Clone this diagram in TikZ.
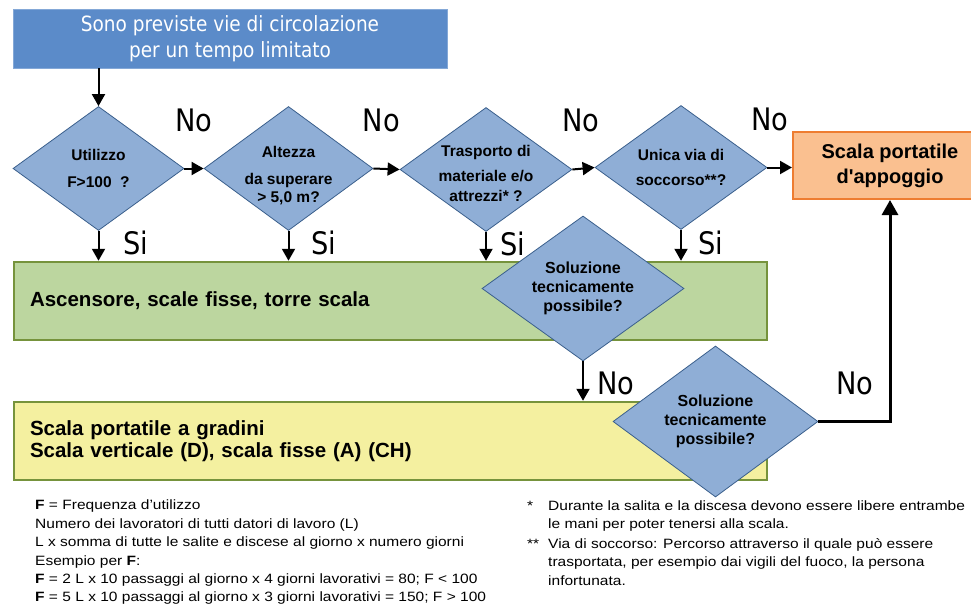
\documentclass[tikz,border=0pt]{standalone}
\usepackage{fontspec}
\setmainfont{Liberation Sans}
\newfontfamily\labelfont[FakeStretch=0.88]{DejaVu Sans}
\newfontfamily\notefont[FakeStretch=1.15]{Liberation Sans}
\usetikzlibrary{arrows.meta,shapes.geometric}

\definecolor{titleblue}{HTML}{5B8BC9}
\definecolor{diafill}{HTML}{8FAED6}
\definecolor{diadraw}{HTML}{3A5F8C}
\definecolor{orangefill}{HTML}{FAC090}
\definecolor{orangedraw}{HTML}{EE7D31}
\definecolor{greenfill}{HTML}{BCD69F}
\definecolor{greendraw}{HTML}{76933C}
\definecolor{yellowfill}{HTML}{F4F0A0}

% text of a decision, moved down by hand
\newcommand{\lowtext}[2]{\raisebox{#1}[0pt][0pt]{\begin{tabular}{@{}c@{}}#2\end{tabular}}}

\begin{document}
\begin{tikzpicture}[x=1pt,y=-1pt]

    \useasboundingbox (0,0) rectangle (971,610);

    \node (1) [rectangle, fill=titleblue, draw=titleblue!75!white, thick, minimum width=434pt, minimum height=59pt,
        text=white, align=center, font=\labelfont\fontsize{21}{26}\selectfont] at (230,38.5)
        {Sono previste vie di circolazione\\per un tempo limitato};

    \begin{scope}[every node/.style={rectangle, draw=greendraw, line width=2.5pt, inner xsep=16pt, text width=721pt,
        minimum height=78pt, align=left, font=\bfseries\fontsize{20.5}{22}\selectfont}]
        \node (7) [fill=greenfill] at (390.5,301) {Ascensore, scale fisse, torre scala};
        \node (9) [fill=yellowfill] at (390.5,441) {Scala portatile a gradini\\Scala verticale (D), scala fisse (A) (CH)};
    \end{scope}

    \node (6) [rectangle, fill=orangefill, draw=orangedraw, line width=2pt, minimum width=194pt, minimum height=67pt,
        align=center, font=\bfseries\fontsize{20}{25}\selectfont] at (890,165.5) {Scala portatile\\d\textquotesingle appoggio};

    \begin{scope}[every node/.style={diamond, aspect=1.4, fill=diafill, draw=diadraw, thick, inner sep=0pt,
        align=center, font=\bfseries\fontsize{15.5}{18}\selectfont}]
        \node (2) [minimum width=171pt, minimum height=124pt] at (98.5,168.5) {Utilizzo\\[9pt]F>100\ \ ?};
        \node (3) [minimum width=169pt, minimum height=124pt] at (288.5,168.5)
            {\lowtext{-11pt}{Altezza\\[9pt]da superare\\> 5,0 m?}};
        \node (4) [minimum width=172pt, minimum height=124pt] at (486,169.5)
            {\lowtext{-9pt}{Trasporto di\\[7pt]materiale e/o\\[2pt]attrezzi* ?}};
        \node (5) [minimum width=172pt, minimum height=124pt] at (681,167.5) {Unica via di\\[7pt]soccorso**?};
        \node (8) [minimum width=202pt, minimum height=145pt, font=\bfseries\fontsize{16}{19}\selectfont] at (583,288.5)
            {Soluzione\\tecnicamente\\possibile?};
        \node (10) [minimum width=205pt, minimum height=151pt, font=\bfseries\fontsize{16}{19}\selectfont] at (715.5,421.5)
            {Soluzione\\tecnicamente\\possibile?};
    \end{scope}

    \begin{scope}[every node/.style={inner sep=0pt, font=\labelfont\fontsize{31}{31}\selectfont},
        every edge/.style={draw, line width=2pt, -{Triangle[length=12pt,width=13pt]}}]
        \path (1.south -| 2.north) edge (2.north);
        \path (2.east) edge node[yshift=48.5pt] {No} (3.west);
        \path (3.east) edge node[xshift=-5pt, yshift=48.5pt] {No} (4.west);
        \path (4.east) edge node[xshift=-2.5pt, yshift=48.5pt] {No} (5.west);
        \path (5.east) edge node[xshift=-10pt, yshift=48.5pt] {No} (5.east -| 6.west);
        \path (2.south) edge node[xshift=37.5pt, yshift=2.5pt] {Si} (2.south |- 7.north);
        \path (3.south) edge node[xshift=35.5pt, yshift=2.5pt] {Si} (3.south |- 7.north);
        \path (4.south) edge node[xshift=27pt, yshift=2.5pt] {Si} (4.south |- 7.north);
        \path (5.south) edge node[xshift=30pt, yshift=2.5pt] {Si} (5.south |- 7.north);
        \path (8.south) edge node[xshift=33pt, yshift=-2pt] {No} (8.south |- 9.north);
        \draw [line width=3pt, -{Triangle[length=15pt,width=16pt]}] (10.east) -| node[pos=0.6, xshift=-35pt, yshift=-6.4pt] {No} (6.south);
    \end{scope}

    % notes under the chart
    \node (11) [anchor=north west, align=left, inner sep=0pt, font=\notefont\fontsize{13.5}{18.4}\selectfont] at (35,500)
        {\textbf{F} = Frequenza d’utilizzo\\
        Numero dei lavoratori di tutti datori di lavoro (L)\\
        L x somma di tutte le salite e discese al giorno x numero giorni\\
        Esempio per \textbf{F}:\\
        \textbf{F} = 2 L x 10 passaggi al giorno x 4 giorni lavorativi = 80; F < 100\\
        \textbf{F} = 5 L x 10 passaggi al giorno x 3 giorni lavorativi = 150; F > 100};
    \node (12) [anchor=north west, inner sep=0pt, font=\notefont\fontsize{13.5}{18.4}\selectfont] at (527,497)
        {\begin{tabular}{@{}p{21pt}@{}l@{}}
        * & Durante la salita e la discesa devono essere libere entrambe\\
          & le mani per poter tenersi alla scala.\\[1.5pt]
        ** & Via di soccorso: Percorso attraverso il quale può essere\\
          & trasportata, per esempio dai vigili del fuoco, la persona\\
          & infortunata.
        \end{tabular}};

\end{tikzpicture}
\end{document}
